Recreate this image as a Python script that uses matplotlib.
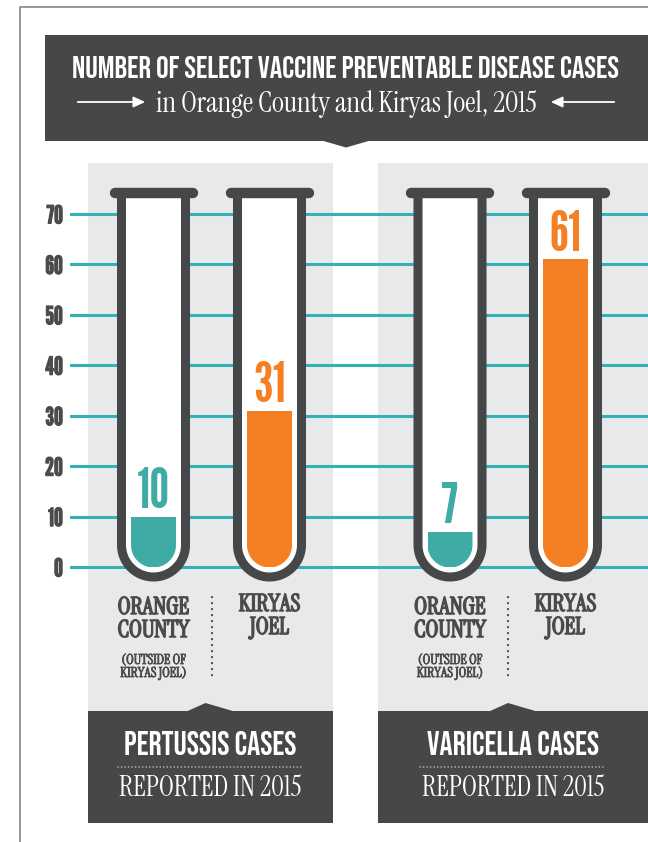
import numpy as np
import matplotlib
matplotlib.use('Agg')
import matplotlib.pyplot as plt
from matplotlib.patches import Rectangle, Polygon, FancyArrowPatch
from matplotlib.lines import Line2D
from matplotlib.transforms import Affine2D
import matplotlib.patheffects as pe

# data
diseases = ['PERTUSSIS CASES', 'VARICELLA CASES']
places = ['ORANGE\nCOUNTY', 'KIRYAS\nJOEL']
place_note = '(OUTSIDE OF\nKIRYAS JOEL)'
pertussis = [10, 31]
varicella = [7, 61]
yticks = [0, 10, 20, 30, 40, 50, 60, 70]

# fonts / colours
SANS = ['Bebas Neue', 'Oswald', 'DejaVu Sans']
NUM = ['League Gothic', 'Bebas Neue', 'DejaVu Sans']
SERIF = ['Instrument Serif', 'DejaVu Serif']
DARK = '#464749'
LABEL = '#4a4b4d'
PANEL = '#e8e9eb'
GRID = '#33b1b5'
COLORS = ['#3eaba5', '#f58024']

W, H = 648, 842
fig = plt.figure(figsize=(W / 100, H / 100), dpi=100)
px = Affine2D().scale(1 / W, -1 / H).translate(0, 1) + fig.transFigure

# value axis: 0 sits at pixel row 567, 70 at row 214
y0_px, y70_px = 567, 214
k = (y0_px - y70_px) / 70
ax = fig.add_axes([70 / W, 0, 1 - 70 / W, 1])
ax.set_xlim(70, W)
ax.set_ylim((y0_px - H) / k, y0_px / k)
ax.patch.set_visible(False)
for s in ax.spines.values():
    s.set_visible(False)
ax.set_xticks([])
ax.set_yticks(yticks)
ax.tick_params(axis='y', length=0, pad=5, labelcolor=LABEL, labelsize=18)
for lab in ax.get_yticklabels():
    lab.set_fontfamily(NUM)
    lab.set_path_effects([pe.withStroke(linewidth=0.8, foreground=LABEL)])
ax.set_axisbelow(True)
ax.yaxis.grid(True, color=GRID, linewidth=2.2)


def add(p):
    p.set_transform(px)
    p.set_clip_on(False)
    ax.add_artist(p)
    return p


# frame
add(Line2D([19.5, 19.5, W], [H, 7, 7], color='#7a7b7d', lw=1.1, zorder=0.2))

# title banner
add(Rectangle((45, 35), W - 45, 106, fc=DARK, ec='none', zorder=0.2))
add(Polygon([(320, 140), (372, 140), (346, 147.5)], fc=DARK, ec='none', zorder=0.2))
ax.text(346, 78, 'NUMBER OF SELECT VACCINE PREVENTABLE DISEASE CASES', transform=px,
        ha='center', va='baseline', color='white', fontsize=22.5, family=SANS)
ax.text(346, 112, 'in Orange County and Kiryas Joel, 2015', transform=px,
        ha='center', va='baseline', color='white', fontsize=21, family=SERIF)
for a, b in [(75, 148), (617, 548)]:
    add(FancyArrowPatch((a, 102), (b, 102), arrowstyle='-|>,head_length=7,head_width=3.2',
                        color='white', lw=1.3, mutation_scale=1, zorder=3))

# panels
panels = [(88, 333), (378, W)]
for (l, r), title in zip(panels, diseases):
    cx = (l + r) / 2
    add(Rectangle((l, 163), r - l, 548, fc=PANEL, ec='none', zorder=0.2))
    add(Rectangle((l, 711), r - l, 112, fc=DARK, ec='none', zorder=0.2))
    add(Polygon([(cx - 24, 711.5), (cx + 24, 711.5), (cx - 5, 703)], fc=DARK, ec='none', zorder=0.2))
    ax.text(cx, 755, title, transform=px, ha='center', va='baseline', color='white',
            fontsize=23.5, family=SANS)
    add(Line2D([cx - 93, cx + 93], [767, 767], color='#c9c9cb', lw=1.1,
               ls=(0, (0.1, 2.2)), dash_capstyle='round', zorder=3))
    ax.text(cx, 796, 'REPORTED IN 2015', transform=px, ha='center', va='baseline',
            color='white', fontsize=20, family=SERIF)

# tubes
tube_x = [153.5, 269.5, 450, 565.5]
values = pertussis + varicella
rim_y, bot_c = 192.5, 545.0
t = np.linspace(np.pi, 0, 60)
for i, (cx, v) in enumerate(zip(tube_x, values)):
    col = COLORS[i % 2]
    # glass
    R = 32
    pts = [(cx - R, rim_y)] + list(zip(cx + R * np.cos(t), bot_c + R * np.sin(t))) + [(cx + R, rim_y)]
    add(Polygon(pts, closed=False, fc='white', ec=DARK, lw=6.5, joinstyle='round', zorder=2))
    add(Line2D([cx - 39, cx + 39], [rim_y, rim_y], color=DARK, lw=7.5,
               solid_capstyle='round', zorder=5))
    # liquid, clipped to the rounded bottom
    r = 22.5
    clip_pts = [(cx - r, 150)] + list(zip(cx + r * np.cos(t), bot_c + r * np.sin(t))) + [(cx + r, 150)]
    clip = Polygon(clip_pts, closed=True, transform=px)
    bars = ax.bar([cx], [v], width=45, color=col, zorder=3)
    for b in bars:
        b.set_clip_path(clip)
    ax.text(cx, v + 1.7, str(v), ha='center', va='baseline', color=col,
            fontsize=40, family=NUM, zorder=6)

# place labels under the tubes (baseline = last line)
bold = [pe.withStroke(linewidth=1.1, foreground=LABEL)]
thin = [pe.withStroke(linewidth=0.6, foreground=LABEL)]
for j, (l, r) in enumerate(panels):
    xo, xk = tube_x[2 * j], tube_x[2 * j + 1]
    sep = (xo + xk) / 2 + 0.5
    ax.text(xo, 637, places[0], transform=px, ha='center', va='baseline', color=LABEL,
            fontsize=17, family=SERIF, path_effects=bold, linespacing=0.95)
    ax.text(xo, 677, place_note, transform=px, ha='center', va='baseline', color=LABEL,
            fontsize=10, family=SERIF, path_effects=thin, linespacing=1.0)
    ax.text(xk, 634, places[1], transform=px, ha='center', va='baseline', color=LABEL,
            fontsize=17, family=SERIF, path_effects=bold, linespacing=0.95)
    add(Line2D([sep, sep], [597, 678], color=LABEL, lw=1.6,
               ls=(0, (0.1, 2.6)), dash_capstyle='round', zorder=3))

fig.savefig('out.png', dpi=100)
